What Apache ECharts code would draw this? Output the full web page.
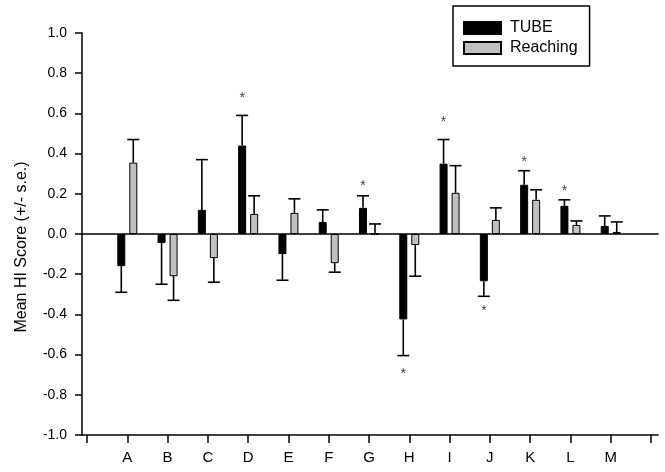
<!DOCTYPE html>
<html>
<head>
<meta charset="utf-8">
<script src="https://cdn.jsdelivr.net/npm/echarts@6/dist/echarts.min.js"></script>
<style>html,body{margin:0;padding:0;background:#fff;}#c{width:665px;height:472px;}</style>
</head>
<body>
<div id="c"></div>
<script>
var categories = ['', 'A', 'B', 'C', 'D', 'E', 'F', 'G', 'H', 'I', 'J', 'K', 'L', 'M', ''];
var tube     = [null, -0.16, -0.045, 0.12, 0.44, -0.10, 0.06, 0.13, -0.425, 0.35, -0.235, 0.245, 0.14, 0.04, null];
var tubeErr  = [null, 0.13, 0.205, 0.25, 0.15, 0.13, 0.06, 0.06, 0.18, 0.12, 0.075, 0.07, 0.03, 0.05, null];
var reach    = [null, 0.355, -0.21, -0.12, 0.10, 0.105, -0.145, 0.0, -0.055, 0.205, 0.07, 0.17, 0.045, 0.01, null];
var reachErr = [null, 0.115, 0.12, 0.12, 0.09, 0.07, 0.045, 0.05, 0.155, 0.135, 0.06, 0.05, 0.02, 0.05, null];
var starCats = ['D', 'G', 'H', 'I', 'J', 'K', 'L'];
var starVals = [0.69, 0.255, -0.68, 0.57, -0.37, 0.37, 0.23];
var yTicks = { min: -1.0, max: 1.0, step: 0.2 };

var FONT = 'Liberation Sans, Arial, sans-serif';

function errData(vals, errs) {
  var out = [];
  for (var i = 0; i < vals.length; i++) {
    if (vals[i] !== null) out.push([i, vals[i], errs[i]]);
  }
  return out;
}
function errRender(shift) {
  return function (params, api) {
    var idx = api.value(0), m = api.value(1), e = api.value(2);
    var sign = m < 0 ? -1 : 1;
    var p0 = api.coord([idx, m]);
    var p1 = api.coord([idx, m + sign * e]);
    var x = p0[0] + shift;
    var st = { stroke: '#000', lineWidth: 1.6 };
    return {
      type: 'group',
      children: [
        { type: 'line', shape: { x1: x, y1: p0[1], x2: x, y2: p1[1] }, style: st },
        { type: 'line', shape: { x1: x - 6, y1: p1[1], x2: x + 6, y2: p1[1] }, style: st }
      ]
    };
  };
}
var starData = starCats.map(function (c, i) { return [categories.indexOf(c), starVals[i]]; });

var chart = echarts.init(document.getElementById('c'), null, { renderer: 'canvas' });
chart.setOption({
  animation: false,
  backgroundColor: '#fff',
  textStyle: { fontFamily: FONT },
  grid: [
    { left: 82, right: 7, top: 33, bottom: 37 },
    { left: 87, right: 14, top: 33, bottom: 37 }
  ],
  legend: {
    data: ['TUBE', 'Reaching'],
    orient: 'vertical',
    left: 453, top: 6,
    icon: 'rect',
    itemWidth: 37, itemHeight: 12, itemGap: 4,
    padding: [14, 12, 10, 10],
    borderColor: '#000', borderWidth: 1.5,
    textStyle: { fontFamily: FONT, fontSize: 16, color: '#000', padding: [0, 0, 0, 4] },
    selectedMode: false
  },
  yAxis: [
    {
      gridIndex: 0, type: 'value', min: yTicks.min, max: yTicks.max, interval: yTicks.step,
      name: 'Mean HI Score (+/- s.e.)', nameLocation: 'middle', nameRotate: 90, nameGap: 52,
      nameTextStyle: { fontFamily: FONT, fontSize: 16, color: '#000', padding: [0, 26, 0, 0] },
      axisLine: { show: true, lineStyle: { color: '#000', width: 1.5 } },
      axisTick: { show: true, length: 7, lineStyle: { color: '#000', width: 1.5 } },
      axisLabel: { fontFamily: FONT, fontSize: 14, color: '#000', margin: 15,
        formatter: function (v) { return v.toFixed(1); } },
      splitLine: { show: false }
    },
    {
      gridIndex: 1, type: 'value', min: yTicks.min, max: yTicks.max, interval: yTicks.step,
      axisLine: { show: false }, axisTick: { show: false }, axisLabel: { show: false }, splitLine: { show: false }
    }
  ],
  xAxis: [
    {
      gridIndex: 0, type: 'value', min: 0, max: 1, position: 'bottom',
      axisLine: { show: true, onZero: false, lineStyle: { color: '#000', width: 1.5 } },
      axisTick: { show: false }, axisLabel: { show: false }, splitLine: { show: false }
    },
    {
      gridIndex: 0, type: 'value', min: 0, max: 1, position: 'top',
      axisLine: { show: true, onZero: true, lineStyle: { color: '#000', width: 1.5 } },
      axisTick: { show: false }, axisLabel: { show: false }, splitLine: { show: false }
    },
    {
      gridIndex: 1, type: 'category', data: categories, boundaryGap: false, position: 'bottom',
      axisLine: { show: false, onZero: false },
      axisTick: { show: true, length: 8, interval: 0, lineStyle: { color: '#000', width: 1.5 } },
      axisLabel: { interval: 0, fontFamily: FONT, fontSize: 15, color: '#000', margin: 15 },
      splitLine: { show: false }
    }
  ],
  series: [
    {
      name: 'TUBE', type: 'bar', xAxisIndex: 2, yAxisIndex: 1, data: tube,
      barWidth: 8, barGap: '50%',
      itemStyle: { color: '#000', borderColor: '#000', borderWidth: 1 }
    },
    {
      name: 'Reaching', type: 'bar', xAxisIndex: 2, yAxisIndex: 1, data: reach,
      barWidth: 8, barGap: '50%',
      itemStyle: { color: '#c0c0c0', borderColor: '#000', borderWidth: 1 }
    },
    {
      type: 'custom', xAxisIndex: 2, yAxisIndex: 1, data: errData(tube, tubeErr),
      renderItem: errRender(-6), z: 3, silent: true
    },
    {
      type: 'custom', xAxisIndex: 2, yAxisIndex: 1, data: errData(reach, reachErr),
      renderItem: errRender(6), z: 3, silent: true
    },
    {
      type: 'custom', xAxisIndex: 2, yAxisIndex: 1, data: starData, z: 4, silent: true,
      renderItem: function (params, api) {
        var p = api.coord([api.value(0), api.value(1)]);
        return { type: 'text', style: { text: '*', x: p[0] - 6, y: p[1] + 3, align: 'center', verticalAlign: 'middle',
          fontFamily: FONT, fontSize: 14, fill: '#444' } };
      }
    }
  ]
});
</script>
</body>
</html>
